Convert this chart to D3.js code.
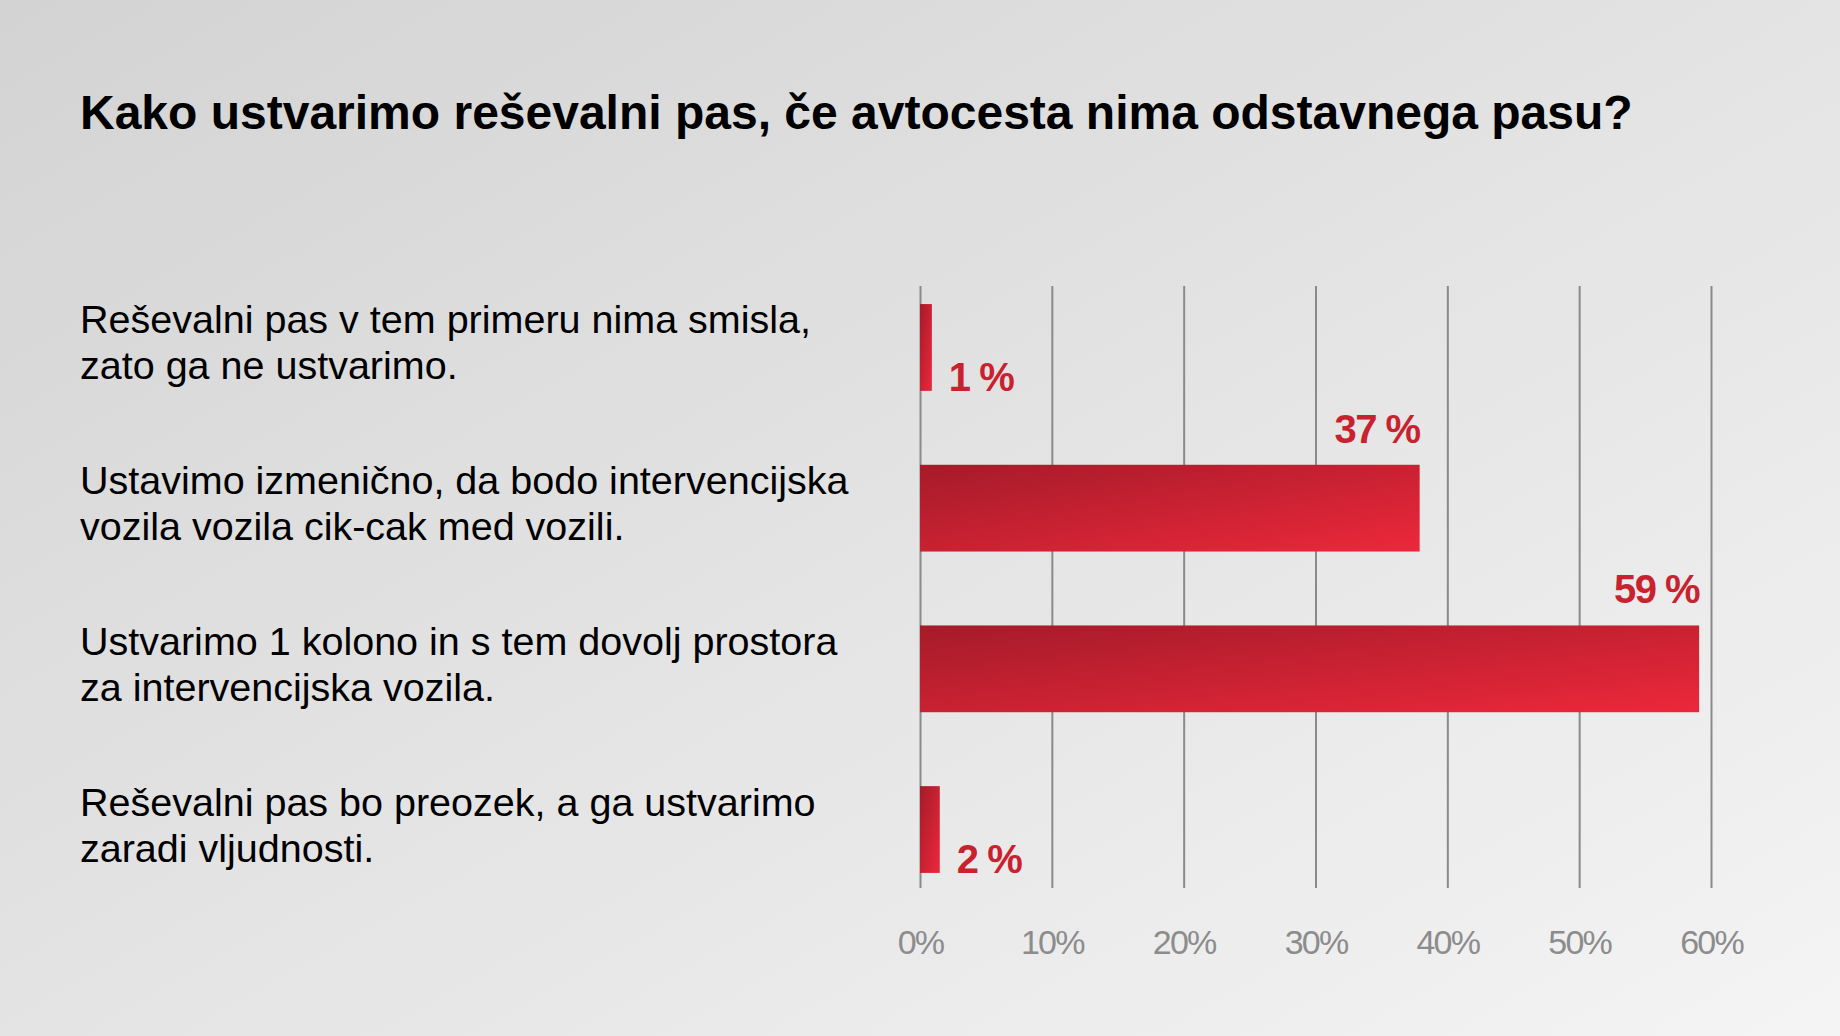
<!DOCTYPE html>
<html lang="sl">

<head>
    <meta charset="UTF-8">
    <title>Reševalni pas</title>
    <script src="https://d3js.org/d3.v7.min.js"></script>
    <style>
        body {
            margin: 0;
            overflow: hidden;
        }

        svg {
            display: block;
            font-family: "Liberation Sans", Arial, sans-serif;
        }

        .x-axis path {
            display: none;
        }

        .x-axis line {
            stroke: #8a8a8a;
            stroke-width: 2;
        }

        .x-axis text {
            font-size: 34px;
            fill: #8c8c8c;
            letter-spacing: -1.8px;
        }
    </style>
</head>

<body>
<svg width="1840" height="1036"></svg>

    <script>
        const title = "Kako ustvarimo reševalni pas, če avtocesta nima odstavnega pasu?";

        // odgovori (vsak v dveh vrsticah, kot na prosojnici)
        const answers = [
            ["Reševalni pas v tem primeru nima smisla,", "zato ga ne ustvarimo."],
            ["Ustavimo izmenično, da bodo intervencijska", "vozila vozila cik-cak med vozili."],
            ["Ustvarimo 1 kolono in s tem dovolj prostora", "za intervencijska vozila."],
            ["Reševalni pas bo preozek, a ga ustvarimo", "zaradi vljudnosti."]
        ];
        const shares = [0.9, 37.9, 59.1, 1.5];
        const shareLabels = ["1 %", "37 %", "59 %", "2 %"];
        const ticks = [0, 10, 20, 30, 40, 50, 60];

        const W = 1840, H = 1036;
        const svg = d3.select("svg");
        const defs = svg.append("defs");

        // ozadje
        let bg = defs.append("linearGradient")
            .attr("id", "bg")
            .attr("x1", 0).attr("y1", 0)
            .attr("x2", 1).attr("y2", 1);
        bg.append("stop").attr("offset", "0%").attr("stop-color", "#d3d3d3");
        bg.append("stop").attr("offset", "100%").attr("stop-color", "#f4f4f4");

        let barGrad = defs.append("linearGradient")
            .attr("id", "barGrad")
            .attr("x1", 0).attr("y1", 0)
            .attr("x2", 1).attr("y2", 1);
        barGrad.append("stop").attr("offset", "0%").attr("stop-color", "#a51b29");
        barGrad.append("stop").attr("offset", "100%").attr("stop-color", "#ec283b");

        svg.append("rect")
            .attr("width", W)
            .attr("height", H)
            .attr("fill", "url(#bg)");

        svg.append("text")
            .attr("x", 80)
            .attr("y", 129)
            .attr("font-size", "48px")
            .attr("font-weight", "bold")
            .attr("fill", "#000")
            .text(title);

        let x = d3.scaleLinear()
            .domain([0, 60])
            .range([920, 1711]);

        let y = d3.scaleBand()
            .domain(d3.range(answers.length))
            .range([284, 893])
            .paddingInner(0.46)
            .paddingOuter(0.125);

        const gridTop = 286, gridBottom = 888;

        let xAxis = d3.axisBottom(x)
            .tickValues(ticks)
            .tickFormat(d => d + "%")
            .tickSizeInner(-(gridBottom - gridTop))
            .tickSizeOuter(0);

        let gX = svg.append("g")
            .attr("class", "x-axis")
            .attr("transform", `translate(0,${gridBottom})`)
            .call(xAxis);

        gX.selectAll("text")
            .attr("y", 66)
            .attr("dy", null);

        // stolpci
        svg.append("g")
            .selectAll("rect")
            .data(shares)
            .join("rect")
            .attr("x", x(0))
            .attr("y", (d, i) => y(i))
            .attr("width", d => x(d) - x(0))
            .attr("height", y.bandwidth())
            .attr("fill", "url(#barGrad)");

        // vrednosti: majhne desno spodaj, velike nad koncem stolpca
        svg.append("g")
            .selectAll("text")
            .data(shares)
            .join("text")
            .attr("x", d => d < 5 ? x(d) + 17 : x(d))
            .attr("y", (d, i) => d < 5 ? y(i) + y.bandwidth() : y(i) - 22)
            .attr("text-anchor", d => d < 5 ? "start" : "end")
            .attr("font-size", "40px")
            .attr("font-weight", "bold")
            .attr("letter-spacing", "-1.5px")
            .attr("fill", "#c9222f")
            .text((d, i) => shareLabels[i]);

        // besedila odgovorov
        let labels = svg.append("g")
            .selectAll("text")
            .data(answers)
            .join("text")
            .attr("x", 80)
            .attr("y", (d, i) => y(i) + y.bandwidth() / 2 - 14)
            .attr("font-size", "39.5px")
            .attr("fill", "#000");

        labels.selectAll("tspan")
            .data(d => d)
            .join("tspan")
            .attr("x", 80)
            .attr("dy", (d, i) => i === 0 ? 0 : 46)
            .text(d => d);
    </script>
</body>

</html>
